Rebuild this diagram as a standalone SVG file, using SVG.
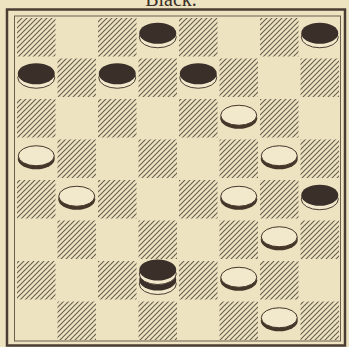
<svg xmlns="http://www.w3.org/2000/svg" xmlns:xlink="http://www.w3.org/1999/xlink" width="349" height="347" viewBox="0 0 349 347">
<style>
.bg{fill:#eee3c0}
.hatch{fill:url(#hp)}
.frame-outer{fill:none;stroke:#4a3d33;stroke-width:2.5}
.frame-inner{fill:none;stroke:#6b5f50;stroke-width:1}
.title{font-family:"Liberation Serif",serif;font-size:20px;fill:#3a3028}
</style>
<defs>
<pattern id="hp" patternUnits="userSpaceOnUse" width="5" height="5">
<path d="M-1,1 L1,-1 M0,5 L5,0 M4,6 L6,4" stroke="#6a6252" stroke-width="1.2"/>
</pattern>
<g id="wp">
<ellipse cx="0" cy="0" rx="18.5" ry="10.5" fill="#45362a"/>
<ellipse cx="0" cy="-3" rx="18" ry="10" fill="#f2e9cc" stroke="#45362a" stroke-width="1"/>
</g>
<g id="bp">
<ellipse cx="0" cy="0" rx="18.5" ry="10.5" fill="#f2e9cc" stroke="#4a3d33" stroke-width="1"/>
<ellipse cx="0" cy="-4" rx="18.5" ry="10.5" fill="#3a2f29"/>
</g>
</defs>
<rect class="bg" x="0" y="0" width="349" height="347"/>
<text class="title" x="171" y="5.5" text-anchor="middle">Black.</text>
<g id="board">
<rect class="frame-outer" x="7" y="9.5" width="338" height="336"/>
<rect class="frame-inner" x="14.5" y="16" width="326" height="325"/>
<g id="squares">
<rect class="hatch" x="17" y="18" width="38.5" height="38.5"/>
<rect class="hatch" x="98" y="18" width="38.5" height="38.5"/>
<rect class="hatch" x="179" y="18" width="38.5" height="38.5"/>
<rect class="hatch" x="260" y="18" width="38.5" height="38.5"/>
<rect class="hatch" x="57.5" y="58.5" width="38.5" height="38.5"/>
<rect class="hatch" x="138.5" y="58.5" width="38.5" height="38.5"/>
<rect class="hatch" x="219.5" y="58.5" width="38.5" height="38.5"/>
<rect class="hatch" x="300.5" y="58.5" width="38.5" height="38.5"/>
<rect class="hatch" x="17" y="99" width="38.5" height="38.5"/>
<rect class="hatch" x="98" y="99" width="38.5" height="38.5"/>
<rect class="hatch" x="179" y="99" width="38.5" height="38.5"/>
<rect class="hatch" x="260" y="99" width="38.5" height="38.5"/>
<rect class="hatch" x="57.5" y="139.5" width="38.5" height="38.5"/>
<rect class="hatch" x="138.5" y="139.5" width="38.5" height="38.5"/>
<rect class="hatch" x="219.5" y="139.5" width="38.5" height="38.5"/>
<rect class="hatch" x="300.5" y="139.5" width="38.5" height="38.5"/>
<rect class="hatch" x="17" y="180" width="38.5" height="38.5"/>
<rect class="hatch" x="98" y="180" width="38.5" height="38.5"/>
<rect class="hatch" x="179" y="180" width="38.5" height="38.5"/>
<rect class="hatch" x="260" y="180" width="38.5" height="38.5"/>
<rect class="hatch" x="57.5" y="220.5" width="38.5" height="38.5"/>
<rect class="hatch" x="138.5" y="220.5" width="38.5" height="38.5"/>
<rect class="hatch" x="219.5" y="220.5" width="38.5" height="38.5"/>
<rect class="hatch" x="300.5" y="220.5" width="38.5" height="38.5"/>
<rect class="hatch" x="17" y="261" width="38.5" height="38.5"/>
<rect class="hatch" x="98" y="261" width="38.5" height="38.5"/>
<rect class="hatch" x="179" y="261" width="38.5" height="38.5"/>
<rect class="hatch" x="260" y="261" width="38.5" height="38.5"/>
<rect class="hatch" x="57.5" y="301.5" width="38.5" height="38.5"/>
<rect class="hatch" x="138.5" y="301.5" width="38.5" height="38.5"/>
<rect class="hatch" x="219.5" y="301.5" width="38.5" height="38.5"/>
<rect class="hatch" x="300.5" y="301.5" width="38.5" height="38.5"/>
</g>
</g>
<g id="connectors"/>
<g id="black-r0c3"><use xlink:href="#bp" x="157.75" y="37.25"/></g>
<g id="black-r0c7"><use xlink:href="#bp" x="319.75" y="37.25"/></g>
<g id="black-r1c0"><use xlink:href="#bp" x="36.25" y="77.75"/></g>
<g id="black-r1c2"><use xlink:href="#bp" x="117.25" y="77.75"/></g>
<g id="black-r1c4"><use xlink:href="#bp" x="198.25" y="77.75"/></g>
<g id="white-r2c5"><use xlink:href="#wp" x="238.75" y="118.25"/></g>
<g id="white-r3c0"><use xlink:href="#wp" x="36.25" y="158.75"/></g>
<g id="white-r3c6"><use xlink:href="#wp" x="279.25" y="158.75"/></g>
<g id="white-r4c1"><use xlink:href="#wp" x="76.75" y="199.25"/></g>
<g id="white-r4c5"><use xlink:href="#wp" x="238.75" y="199.25"/></g>
<g id="black-r4c7"><use xlink:href="#bp" x="319.75" y="199.25"/></g>
<g id="white-r5c6"><use xlink:href="#wp" x="279.25" y="239.75"/></g>
<g id="black-king-r6c3"><use xlink:href="#bp" x="157.75" y="284"/><use xlink:href="#bp" x="157.75" y="274"/></g>
<g id="white-r6c5"><use xlink:href="#wp" x="238.75" y="280.25"/></g>
<g id="white-r7c6"><use xlink:href="#wp" x="279.25" y="320.75"/></g>
</svg>
